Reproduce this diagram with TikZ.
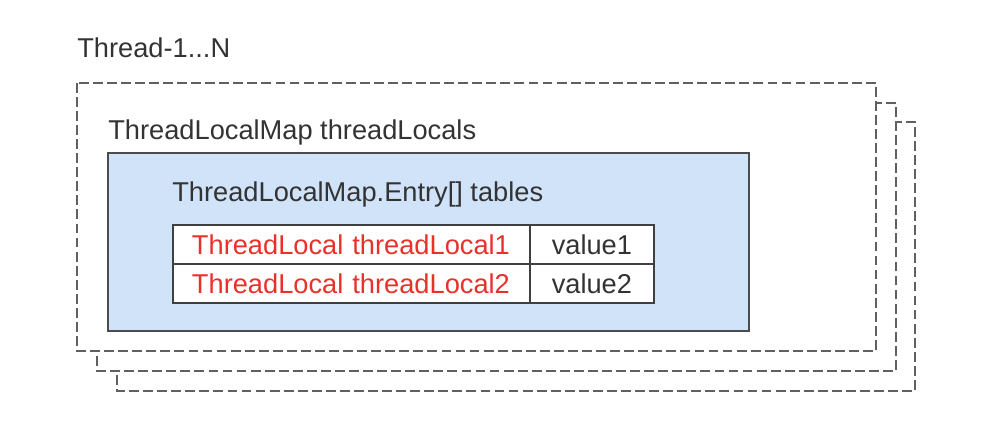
\documentclass[tikz,border=0pt]{standalone}
\usepackage{fontspec}
\setmainfont{Liberation Sans}
\usetikzlibrary{positioning}
\definecolor{framegray}{HTML}{606060}
\definecolor{mapblue}{HTML}{D0E3F9}
\definecolor{txtgray}{HTML}{333333}
\definecolor{keyred}{HTML}{E8312A}

\begin{document}
\begin{tikzpicture}[x=0.02cm,y=-0.02cm, every node/.style={font=\fontsize{15.5}{18}\selectfont,text=txtgray}]
\tikzset{
  threadbox/.style={draw=framegray,fill=white,line width=1.2pt,dash pattern=on 5.6pt off 2.4pt},
  mapbox/.style={draw=black!70,fill=mapblue,line width=1pt},
  cell/.style={draw=black!75,fill=white,line width=1pt,minimum height=0.78cm,inner sep=0pt,outer sep=0pt},
  label/.style={anchor=base west,inner sep=0pt}
}
\useasboundingbox (0,0) rectangle (990,442);
% stacked threads
\draw[threadbox] (117,122) rectangle (915,391);
\draw[threadbox] (97,103) rectangle (896,371);
\draw[threadbox] (77,83) rectangle (876,351);
\node[label] (thr) at (77,58) {Thread-1...N};
\node[label] (mapname) at (108,140) {ThreadLocalMap threadLocals};
% the map
\draw[mapbox] (108,153) rectangle (749,331);
\node[label] (tabname) at (172,202) {ThreadLocalMap.Entry[] tables};
% entries
\node[cell,minimum width=7.14cm,anchor=north west,text=keyred,align=left,text width=6.38cm] (k1) at (173,225) {ThreadLocal threadLocal1};
\node[cell,minimum width=2.48cm,right=0pt of k1] (v1) {value1};
\node[cell,minimum width=7.14cm,below=0pt of k1,text=keyred,align=left,text width=6.38cm] (k2) {ThreadLocal threadLocal2};
\node[cell,minimum width=2.48cm,right=0pt of k2] (v2) {value2};
\end{tikzpicture}
\end{document}
